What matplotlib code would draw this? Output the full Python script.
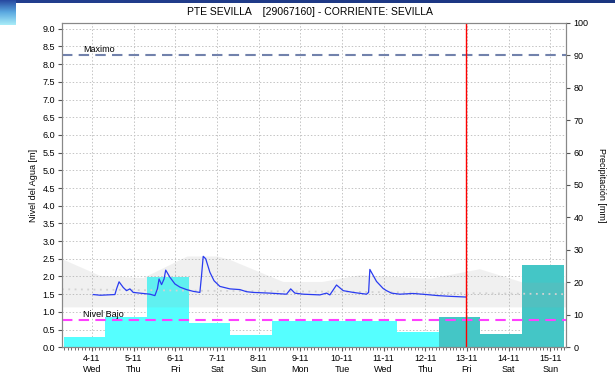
import numpy as np
import matplotlib
matplotlib.use("Agg")
import matplotlib.pyplot as plt
from matplotlib.ticker import MultipleLocator

plt.rcParams['font.family'] = ['Liberation Sans', 'DejaVu Sans']

# Fechas (dia de noviembre) y etiquetas del eje x
dias = [4, 5, 6, 7, 8, 9, 10, 11, 12, 13, 14, 15]
dias_semana = ["Wed", "Thu", "Fri", "Sat", "Sun", "Mon", "Tue", "Wed", "Thu", "Fri", "Sat", "Sun"]

# Precipitacion diaria [mm] (inicio de cada periodo, 08:00 aprox.)
precip_inicio = [3.32, 4.32, 5.32, 6.32, 7.32, 8.32, 9.32, 10.32, 11.32, 12.32, 13.32, 14.32]
precip_mm = [3.1, 9.4, 21.5, 7.4, 3.9, 8.0, 8.0, 8.0, 4.8, 9.4, 4.2, 25.5]
precip_prevista = [False] * 9 + [True] * 3

# Nivel del agua observado [m]
nivel_t = [4.03, 4.20, 4.55, 4.59, 4.65, 4.75, 4.83, 4.91, 4.99, 5.23, 5.39, 5.51,
           5.57, 5.61, 5.67, 5.73, 5.77, 5.87, 5.99, 6.11, 6.27, 6.43, 6.59, 6.63,
           6.67, 6.73, 6.83, 6.93, 7.07, 7.31, 7.55, 7.71, 7.87, 8.27, 8.67, 8.77,
           8.87, 9.07, 9.47, 9.63, 9.71, 9.87, 10.03, 10.27, 10.59, 10.64, 10.67,
           10.75, 10.83, 10.99, 11.07, 11.19, 11.39, 11.71, 12.03, 12.30, 12.59, 12.97]
nivel_m = [1.49, 1.47, 1.49, 1.65, 1.85, 1.69, 1.60, 1.65, 1.55, 1.52, 1.50, 1.46,
           1.65, 1.93, 1.77, 1.93, 2.18, 1.98, 1.79, 1.70, 1.63, 1.58, 1.55, 2.03,
           2.57, 2.50, 2.12, 1.88, 1.72, 1.65, 1.63, 1.57, 1.55, 1.53, 1.50, 1.65,
           1.53, 1.50, 1.48, 1.53, 1.48, 1.76, 1.60, 1.55, 1.50, 1.55, 2.20,
           2.03, 1.86, 1.66, 1.60, 1.53, 1.50, 1.52, 1.49, 1.46, 1.44, 1.42]

# Banda historica (min / max) y nivel medio
banda_t = [3.28, 4.19, 5.22, 6.28, 7.00, 7.31, 8.58, 9.52, 10.43, 12.11, 13.30, 14.34, 15.39]
banda_max = [2.50, 2.03, 1.97, 2.58, 2.58, 2.48, 1.86, 1.86, 2.05, 1.95, 2.22, 1.84, 1.84]
banda_min = 1.14
media_t = [3.28, 6.3, 10.0, 15.39]
media_m = [1.64, 1.60, 1.57, 1.50]

nivel_maximo = 8.25
nivel_bajo = 0.76
ahora = 12.97

fig = plt.figure(figsize=(6.15, 3.81), dpi=100)

# Cabecera de la pagina
cab = fig.add_axes([0, 0.992, 1, 0.008])
cab.imshow(np.linspace(0, 1, 256)[None, :], aspect='auto', extent=(0, 1, 0, 1),
           cmap=matplotlib.colors.LinearSegmentedColormap.from_list('c', ['#233f8f', '#1a3580']))
cab.axis('off')
esq = fig.add_axes([0, 0.934, 0.0244, 0.066])
esq.imshow(np.linspace(0, 1, 64)[:, None], aspect='auto', extent=(0, 1, 0, 1),
           cmap=matplotlib.colors.LinearSegmentedColormap.from_list('e', ['#23409a', '#5aa8e0', '#a8ecf8']))
esq.axis('off')

ax_l = fig.add_axes([0.1008, 0.0885, 0.8203, 0.8519])
ax_p = ax_l.twinx()

# Precipitacion: barras en escala del eje derecho
colores = ['#44c6c6' if p else '#55ffff' for p in precip_prevista]
ax_l.bar(precip_inicio, precip_mm, width=1.0, align='edge', color=colores,
         linewidth=0, transform=ax_p.transData, zorder=1)

ax_l.fill_between(banda_t, banda_min, banda_max, color='#a0a0a0', alpha=0.15,
                  linewidth=0, zorder=2)
ax_l.plot(media_t, media_m, color='#d2d2d2', linestyle=(0, (1, 2.5)), lw=1.3, zorder=3)

ax_l.axhline(nivel_maximo, color='#7282ac', lw=1.5, dashes=(5, 3), zorder=4)
ax_l.axhline(nivel_bajo, color='#ff40ff', lw=1.5, dashes=(5, 3), zorder=4)
ax_l.text(3.78, nivel_maximo + 0.05, "Maximo", fontsize=6.5, va='bottom', zorder=5)
ax_l.text(3.78, nivel_bajo + 0.05, "Nivel Bajo", fontsize=6.5, va='bottom', zorder=5)

ax_l.plot(nivel_t, nivel_m, color='#2a3cf0', lw=0.9, zorder=6)
ax_l.axvline(ahora, color='red', lw=1.0, zorder=7)

ax_l.set_xlim(3.28, 15.39)
ax_l.set_ylim(0, 9.17)
ax_p.set_ylim(0, 100)

ax_l.set_xticks(dias)
ax_l.set_xticklabels([f"{d}-11\n{s}" for d, s in zip(dias, dias_semana)], fontsize=6.5,
                     linespacing=1.25)
ax_l.xaxis.set_minor_locator(MultipleLocator(1 / 12))
ax_l.tick_params(axis='x', which='major', length=3, color='#555555', pad=2)
ax_l.tick_params(axis='x', which='minor', length=2, color='#555555')
ax_l.yaxis.set_major_locator(MultipleLocator(0.5))
ax_l.yaxis.set_major_formatter(matplotlib.ticker.FormatStrFormatter('%.1f'))
ax_l.tick_params(axis='y', length=3, labelsize=6.5, color='#555555', pad=2)
ax_p.yaxis.set_major_locator(MultipleLocator(10))
ax_p.tick_params(axis='y', length=3, labelsize=6.5, color='#555555', pad=2)

ax_l.grid(True, color='#c4c4c4', linestyle=(0, (1.5, 2)), lw=0.7)
ax_l.set_axisbelow(True)

for a in (ax_l, ax_p):
    for s in a.spines.values():
        s.set_color('#888888')
        s.set_linewidth(0.8)

ax_l.set_ylabel("Nivel del Agua [m]", fontsize=6.5)
ax_l.yaxis.set_label_coords(-0.047, 0.5)
ax_p.set_ylabel("Precipitación [mm]", fontsize=6.5, rotation=270, va='bottom')
ax_p.yaxis.set_label_coords(1.06, 0.5)

fig.text(0.504, 0.968, "PTE SEVILLA    [29067160] - CORRIENTE: SEVILLA", fontsize=7.5,
         ha='center', va='center')

fig.savefig("out.png", dpi=100)
